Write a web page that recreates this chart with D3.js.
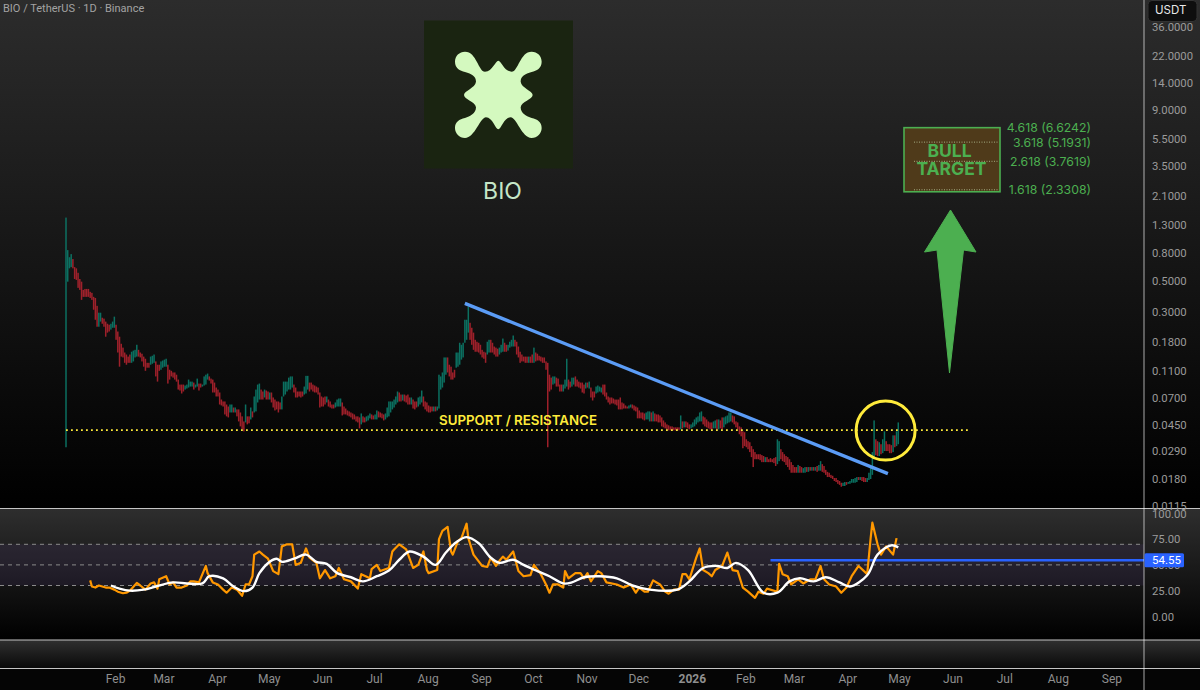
<!DOCTYPE html>
<html>
<head>
<meta charset="utf-8">
<script src="https://cdn.jsdelivr.net/npm/d3@7"></script>
<style>
  html, body { margin: 0; padding: 0; background: #000; }
  svg { display: block; font-family: Inter, "Noto Sans", sans-serif; }
</style>
</head>
<body>
<div id="chart"></div>
<script>
// daily candles, first one is 3 Jan 2025
const firstDay = new Date(Date.UTC(2025, 0, 3));

const highs = [
  1.46,.845,.75,.79,.727,.635,.622,.577,.52,.497,
  .433,.44,.44,.44,.419,.412,.385,.378,.331,.295,
  .295,.271,.267,.254,.245,.241,.245,.254,.276,.241,
  .215,.197,.175,.164,.151,.146,.141,.146,.153,.156,
  .158,.172,.158,.151,.148,.141,.136,.127,.127,.141,
  .143,.146,.13,.123,.123,.13,.132,.134,.136,.123,
  .113,.111,.108,.108,.104,.0958,.0881,.0881,.0881,.0867,
  .0881,.0958,.0926,.0926,.0911,.0881,.0974,.0896,.0896,.0881,
  .101,.104,.106,.101,.0974,.0958,.0911,.0838,.081,.0771,
  .0685,.0663,.0663,.063,.0609,.063,.063,.0599,.0599,.058,
  .058,.0551,.0516,.0474,.063,.0516,.0516,.0599,.0561,.0721,
  .081,.0881,.0896,.081,.0784,.081,.0797,.0784,.0771,.0771,
  .0709,.0685,.0663,.0663,.0652,.0721,.0926,.0926,.0926,.099,
  .101,.101,.0881,.0838,.0784,.0784,.0784,.0784,.0852,.102,
  .102,.0911,.0911,.0881,.0867,.0852,.0838,.0771,.0721,.0709,
  .0721,.0721,.0685,.0663,.063,.063,.0652,.0685,.0697,.0697,
  .0652,.0609,.0589,.057,.0561,.0551,.0542,.0533,.0516,.0516,
  .0507,.0542,.0516,.0507,.0516,.0524,.0542,.0533,.0524,.0533,
  .057,.0561,.0551,.0542,.0533,.0542,.0599,.0663,.0663,.0663,
  .0685,.0721,.0784,.0771,.0745,.0745,.0745,.0733,.0745,.0709,
  .0709,.0685,.0663,.0663,.0709,.0721,.0797,.0721,.0663,.0652,
  .062,.0609,.0609,.0609,.0609,.0609,.104,.101,.108,.139,
  .139,.139,.123,.119,.108,.113,.151,.151,.178,.172,
  .178,.262,.262,.326,.249,.229,.211,.187,.181,.178,
  .172,.158,.153,.151,.181,.187,.187,.178,.167,.164,
  .161,.164,.172,.191,.178,.172,.172,.181,.187,.201,
  .187,.181,.167,.153,.146,.141,.141,.141,.141,.141,
  .146,.164,.151,.148,.143,.141,.139,.139,.13,.127,
  .104,.099,.101,.101,.099,.0974,.0881,.0881,.0881,.0958,
  .136,.0958,.0926,.099,.099,.101,.0958,.0926,.0911,.0911,
  .0881,.0911,.0911,.0926,.0838,.0784,.0784,.0852,.0867,.0852,
  .0838,.0881,.0881,.0771,.0721,.0709,.0709,.0697,.0685,.0685,
  .0685,.0709,.0652,.0641,.062,.0609,.062,.063,.063,.062,
  .0609,.0599,.057,.0551,.0551,.0542,.0551,.0561,.0561,.0551,
  .0561,.0542,.0533,.0533,.0524,.0507,.0482,.0466,.0451,.0444,
  .0436,.0436,.0429,.0429,.0429,.0429,.0524,.0474,.0474,.0474,
  .0466,.0451,.0451,.0466,.049,.0507,.0516,.0551,.0561,.0516,
  .0507,.049,.0474,.0466,.0466,.0474,.0482,.049,.049,.0482,
  .0507,.0507,.0516,.0524,.0551,.0551,.0524,.0516,.0474,.0466,
  .0436,.0429,.0401,.0395,.0351,.034,.0334,.0313,.0297,.0283,
  .0273,.0273,.0273,.0269,.0265,.026,.026,.0251,.0256,.0251,
  .0256,.026,.0351,.034,.0297,.0283,.0273,.0265,.026,.0251,
  .0239,.0228,.022,.022,.0228,.0224,.022,.0216,.022,.022,
  .022,.022,.022,.022,.022,.0224,.0228,.0243,.0231,.0224,
  .021,.0203,.02,.0193,.019,.0183,.0183,.0177,.0174,.0169,
  .0169,.0171,.0171,.0171,.0174,.018,.018,.0183,.0186,.0186,
  .0186,.0186,.0186,.0183,.0183,.02,.022,.0283,.0482,.0351,
  .034,.0334,.0323,.0351,.0401,.034,.0323,.0323,.0318,.0375,
  .0375,.0401,.0466
];

const lows = [
  .0307,.497,.622,.635,.622,.52,.512,.448,.433,.366,
  .385,.385,.385,.385,.378,.366,.31,.262,.233,.233,
  .254,.245,.233,.197,.211,.215,.222,.229,.229,.187,
  .151,.119,.141,.139,.127,.123,.127,.127,.127,.13,
  .139,.141,.141,.139,.13,.119,.111,.117,.117,.123,
  .125,.127,.101,.0926,.111,.113,.117,.119,.119,.0896,
  .0958,.101,.099,.0958,.0926,.081,.0797,.0758,.0784,.081,
  .0824,.0838,.0852,.0852,.081,.0838,.0852,.0797,.0838,.0852,
  .0867,.0881,.0958,.0942,.0896,.0771,.0771,.0721,.0721,.063,
  .062,.0609,.0533,.0516,.0507,.0551,.0551,.0551,.0551,.0516,
  .0474,.0436,.0415,.0401,.0466,.0451,.0459,.049,.0507,.0551,
  .0561,.0652,.0685,.0685,.0685,.0709,.0685,.0685,.0685,.0652,
  .0599,.057,.058,.0551,.058,.058,.0721,.0745,.0784,.081,
  .081,.0838,.0771,.0709,.0709,.0721,.0709,.0721,.0745,.0758,
  .081,.0784,.081,.0784,.0771,.0771,.0745,.0599,.0609,.0609,
  .063,.0652,.0609,.0599,.0589,.0589,.0599,.0609,.0609,.0609,
  .0524,.0533,.0533,.0524,.0516,.0507,.049,.049,.0474,.0466,
  .0422,.0451,.0466,.0466,.0474,.0482,.0499,.049,.049,.049,
  .049,.0507,.0507,.0499,.0482,.049,.0507,.0516,.0551,.058,
  .0599,.063,.0652,.0663,.0663,.0674,.0663,.0652,.063,.063,
  .063,.0589,.058,.0599,.0609,.063,.0652,.0609,.058,.0561,
  .0551,.0551,.0561,.0561,.0561,.057,.0589,.081,.0838,.0911,
  .104,.108,.101,.0958,.0958,.099,.117,.119,.123,.134,
  .139,.178,.187,.211,.187,.172,.158,.153,.153,.151,
  .146,.139,.136,.127,.146,.151,.151,.151,.146,.141,
  .141,.146,.151,.153,.153,.153,.156,.164,.167,.167,
  .167,.146,.139,.127,.13,.13,.127,.127,.127,.127,
  .127,.127,.13,.132,.132,.13,.127,.127,.113,.0307,
  .0784,.081,.0881,.0896,.0852,.0852,.0784,.0784,.0784,.0824,
  .0852,.081,.0838,.0852,.0881,.0852,.0852,.0838,.0824,.0771,
  .0758,.0824,.0838,.0824,.0709,.0674,.0709,.0758,.0771,.0784,
  .0771,.0745,.0721,.0685,.0652,.063,.0641,.0641,.063,.062,
  .058,.058,.058,.0589,.0589,.0589,.0589,.0599,.0589,.057,
  .0561,.0499,.0499,.0499,.049,.0482,.049,.049,.0474,.0474,
  .0474,.0474,.0474,.0466,.0466,.0436,.0429,.0422,.0415,.0408,
  .0408,.0408,.0408,.0408,.0408,.0408,.0415,.0422,.0429,.0429,
  .0422,.0415,.0422,.0429,.0436,.0451,.0466,.0474,.0474,.0451,
  .0436,.0429,.0422,.0415,.0415,.0422,.0422,.0415,.0415,.0422,
  .0415,.0429,.0451,.0459,.0466,.0474,.0466,.0451,.0429,.0415,
  .0382,.0369,.0302,.0313,.0307,.0297,.0283,.026,.022,.0251,
  .0251,.0251,.0247,.0239,.0239,.0239,.0239,.0239,.0239,.0239,
  .0235,.0224,.0231,.0243,.0251,.0243,.0239,.0228,.022,.021,
  .02,.02,.02,.02,.02,.02,.02,.02,.02,.0203,
  .0203,.0207,.0207,.0207,.0207,.0203,.0207,.0207,.0203,.02,
  .0193,.0186,.0186,.0183,.018,.0174,.0171,.0166,.0163,.0158,
  .016,.016,.0163,.0166,.0166,.0169,.0169,.0169,.0171,.0177,
  .0177,.0174,.0171,.0171,.0171,.0177,.018,.0193,.026,.0269,
  .0265,.0265,.0273,.0278,.0288,.0288,.0288,.0278,.0278,.0283,
  .0307,.0313,.0323
];

// u = closed up, d = closed down
const candleDirs = [
  'uuuudddddd','dddddddddu','uddddduuud','dddddddduu','uudddddddu',
  'uuddduuuud','dddddddddu','uuuuduuddu','uuuddddddd','ddddduudud',
  'dddduddudu','uuudduddud','ddddduuuuu','uuddddddUU','uddddddddd',
  'dudddduuuu','dddddddddd','dudduuuddu','udddduuuuu','uuuddudddd',
  'uddduuuddd','ddduduuuuu','uddddduuuu','uuuudddddd','dddduudddd',
  'duuudduuuu','ddddddddud','dudddddddd','dduudddduu','udduuddddd',
  'dududdduuu','uddddddddd','dddddduudd','dddddduuud','uddddddddd',
  'ddddddudud','dduuuuuuud','ddddduudud','duuuuudddd','dddddddddd',
  'dddddudddd','dduudddddd','ddddudduud','udududuudd','dddddddddd',
  'uuduuuuuud','uddduuuuud','duduuddddu','duu'
].join('').toLowerCase();

const rsiDays = [
  14,15,17,19,21,23,25,28,30,33,
  35,37,41,43,46,49,51,53,54,58,
  60,62,64,67,70,72,74,77,79,81,
  82,85,88,91,93,96,99,102,104,106,
  108,109,112,114,117,120,123,125,128,131,
  133,136,139,141,145,147,150,153,156,158,
  161,165,169,171,176,177,180,182,187,189,
  190,193,197,201,204,207,209,210,215,216,
  218,221,223,224,227,229,232,233,236,241,
  244,246,249,251,253,255,259,262,265,269,
  271,275,278,280,282,285,288,289,291,295,
  298,300,302,304,308,310,313,319,323,327,
  330,332,335,337,340,344,347,349,352,355,
  357,359,361,365,367,369,372,374,376,380,
  383,386,389,392,395,399,401,404,406,412,
  413,415,418,420,424,427,431,434,437,439,
  442,446,449,452,455,459,464,466,467,470,
  472,475,479,481
];
const rsiValues = [
  35,29,28,30,29,28,28,26,24,22.5,
  23,25,32.5,30,26,32,33,27,36,39,
  31,33,28,28,30,34,34,33,41,49,
  42,33,31,26,23,28,26,20,31,31,
  39,60,63,60,56,44,41,68,70,70,
  50,52,66,57,52,37,45,37,39,47,
  36,34,27,41,37,46,50,44,47,63,
  65,70,65,47,50,63,45,42,45,75,
  83,87,63,60,73,76,90,76,60,49,
  48,57,49,54,58,55,63,44,39,40,
  50,41,31,23,31,31,28,44,37,42,
  42,37,42,34,44,42,33,31,28,31,
  23,28,24,24,35,31,24,22,26,26,
  41,41,36,57,66,45,42,39,45,49,
  62,45,44,28,24,18,24,22,27,24,
  51,41,39,31,36,32,36,36,49,36,
  31,29,23,28,39,49,41,76,91,70,
  60,68,60,76
];

const maDays = [
  26,31,37,45,52,62,70,79,83,91,
  97,103,108,112,118,122,125,132,139,145,
  151,157,165,172,180,187,193,199,207,214,
  220,226,232,239,246,251,259,265,273,280,
  288,293,300,309,319,328,338,354,361,369,
  377,383,388,395,404,412,419,425,433,440,
  448,454,464,470,478,482
];
const maValues = [
  30,27,25,26,29,33,32,32,39,37,
  29,24.5,28,42,53,56,53,56,60,53,
  51,42,38,34,39,44.5,55,63,58,50,
  62,72,77,71,57,52,55,50,44,39,
  32,33,38,39,37,30,26,26,34,47,
  49,47,52,45,23,23,34,37,34,38,
  33,29,40,60,69,67
];

const priceTicks = [36, 22, 14, 9, 5.5, 3.5, 2.1, 1.3, 0.8, 0.5, 0.3, 0.18, 0.11, 0.07, 0.045, 0.029, 0.018, 0.0115];
const rsiTicks = [100, 75, 50, 25, 0];
const rsiBands = [70, 50, 30];
const monthLabels = ['Feb','Mar','Apr','May','Jun','Jul','Aug','Sep','Oct','Nov','Dec','2026','Feb','Mar','Apr','May','Jun','Jul','Aug','Sep'];
const fibRatios = ['4.618', '3.618', '2.618', '1.618'];
const fibPrices = [6.6242, 5.1931, 3.7619, 2.3308];
const supportPrice = 0.0410;
const trendFrom = { day: 231, price: 0.345 };
const trendTo = { day: 476, price: 0.0197 };
const rsiLevel = 54.55;
const rsiLevelFromDay = 408;

const width = 1200, height = 690;
const axisX = 1144;

const svg = d3.select('#chart').append('svg').attr('width', width).attr('height', height);
const defs = svg.append('defs');

function paneGradient(id, top, bottom) {
  const g = defs.append('linearGradient').attr('id', id).attr('x1', 0).attr('y1', 0).attr('x2', 0).attr('y2', 1);
  g.append('stop').attr('offset', 0).attr('stop-color', top);
  g.append('stop').attr('offset', 1).attr('stop-color', bottom);
}
paneGradient('mainBg', '#2c2c2c', '#000');
paneGradient('rsiBg', '#2e2e2e', '#000');
paneGradient('lowBg', '#303030', '#090909');

svg.append('rect').attr('width', width).attr('height', height).attr('fill', '#050505');
svg.append('rect').attr('width', width).attr('height', 508).attr('fill', 'url(#mainBg)');
svg.append('rect').attr('y', 509).attr('width', width).attr('height', 131).attr('fill', 'url(#rsiBg)');
svg.append('rect').attr('y', 640).attr('width', width).attr('height', 28).attr('fill', 'url(#lowBg)');

const x = d3.scaleUtc().domain([firstDay, d3.utcDay.offset(firstDay, 483)]).range([66, 900]);
const dayX = i => x(d3.utcDay.offset(firstDay, i));
const y = d3.scaleLog().domain([0.018, 36]).range([479, 27]);
const rsiY = d3.scaleLinear().domain([0, 100]).range([616.4, 513.4]);

// logo
const logo = svg.append('g');
logo.append('rect').attr('x', 424).attr('y', 20.5).attr('width', 149).attr('height', 148).attr('fill', '#1a2411');
logo.append('path')
  .attr('transform', 'translate(400,0) scale(0.3333)')
  .attr('fill', '#d4f9bf')
  .attr('d', 'M295,182C304,182 312,214 335,215C355,215 360,155 395,155C412,155 425,168 425,185C425,205 410,212 395,216C375,222 362,228 362,245C364,264 398,272 398,285C398,298 364,305 362,322C362,340 380,350 395,354C412,358 425,365 425,384C425,400 412,414 395,414C365,414 350,352 332,352C312,352 304,388 295,388C286,388 278,352 258,352C240,352 225,414 195,414C178,414 165,400 165,384C165,365 178,358 195,354C210,350 228,340 228,322C226,305 192,298 192,285C192,272 226,264 228,245C228,228 215,222 195,216C180,212 165,205 165,185C165,168 178,155 195,155C230,155 235,215 255,215C278,214 286,182 295,182Z');
svg.append('text').attr('x', 502.5).attr('y', 199).attr('text-anchor', 'middle')
  .attr('font-size', 23).attr('fill', '#c5e6c8').text('BIO');

svg.append('text').attr('x', 3).attr('y', 12).attr('font-size', 11).attr('font-family', 'Roboto').attr('fill', '#a3a3a3')
  .text('BIO / TetherUS · 1D · Binance');

// candles
svg.append('g').selectAll('rect').data(highs).join('rect')
  .attr('x', (d, i) => dayX(i) - 0.75)
  .attr('width', 1.5)
  .attr('y', d => y(d))
  .attr('height', (d, i) => y(lows[i]) - y(d))
  .attr('fill', (d, i) => candleDirs[i] === 'u' ? '#0b7d6c' : '#b3232f')
  .attr('fill-opacity', 0.88);

// support line
svg.append('line')
  .attr('x1', 66).attr('x2', 970).attr('y1', y(supportPrice)).attr('y2', y(supportPrice))
  .attr('stroke', '#ffeb3b').attr('stroke-width', 1.8).attr('stroke-dasharray', '1.8 3.2');
svg.append('text').attr('x', 518).attr('y', 425).attr('text-anchor', 'middle')
  .attr('font-size', 13.3).attr('font-weight', 600).attr('fill', '#ffeb3b').text('SUPPORT / RESISTANCE');

// falling trend line
svg.append('line')
  .attr('x1', dayX(trendFrom.day)).attr('y1', y(trendFrom.price))
  .attr('x2', dayX(trendTo.day)).attr('y2', y(trendTo.price))
  .attr('stroke', '#5b9cf6').attr('stroke-width', 3.4);

svg.append('ellipse').attr('cx', 885.6).attr('cy', 430.6).attr('rx', 29.5).attr('ry', 29.5)
  .attr('fill', 'none').attr('stroke', '#ffeb3b').attr('stroke-width', 3);

// bull target box
const boxTop = y(fibPrices[0]);
svg.append('rect').attr('x', 904).attr('y', boxTop).attr('width', 96).attr('height', y(fibPrices[3]) - boxTop + 2)
  .attr('fill', '#4f3a1a').attr('stroke', '#4caf50').attr('stroke-width', 1.6);
svg.append('g').selectAll('line').data(fibPrices.slice(1)).join('line')
  .attr('x1', 914).attr('x2', 999).attr('y1', d => y(d)).attr('y2', d => y(d))
  .attr('stroke', '#b9c79a').attr('stroke-width', 0.8).attr('stroke-dasharray', '1 1.5');
svg.append('text').attr('x', 949.5).attr('y', 157).attr('text-anchor', 'middle')
  .attr('font-size', 17.5).attr('font-weight', 700).attr('fill', '#4caf50').text('BULL');
svg.append('text').attr('x', 951.5).attr('y', 175).attr('text-anchor', 'middle')
  .attr('font-size', 17.5).attr('font-weight', 700).attr('fill', '#4caf50').text('TARGET');
svg.append('g').selectAll('text').data(fibPrices).join('text')
  .attr('x', 1091).attr('y', d => y(d) + 4.5).attr('text-anchor', 'end')
  .attr('font-size', 12.3).attr('fill', '#4caf50')
  .text((d, i) => `${fibRatios[i]} (${d.toFixed(4)})`);

svg.append('path').attr('fill', '#4caf50').attr('stroke', '#4caf50').attr('stroke-width', 1).attr('stroke-linejoin', 'round')
  .attr('d', 'M950.5,210L976,252L963.5,250L949.5,373L937,250L924.5,252Z');

// rsi pane
svg.append('rect').attr('x', 0).attr('width', axisX)
  .attr('y', rsiY(rsiBands[0])).attr('height', rsiY(rsiBands[2]) - rsiY(rsiBands[0]))
  .attr('fill', '#7e57c2').attr('fill-opacity', 0.1);
svg.append('g').selectAll('line').data(rsiBands).join('line')
  .attr('x1', 0).attr('x2', axisX).attr('y1', d => rsiY(d)).attr('y2', d => rsiY(d))
  .attr('stroke', '#8a8a8a').attr('stroke-width', 1).attr('stroke-dasharray', '4 4');

svg.append('line').attr('x1', dayX(rsiLevelFromDay)).attr('x2', axisX)
  .attr('y1', rsiY(rsiLevel)).attr('y2', rsiY(rsiLevel))
  .attr('stroke', '#2962ff').attr('stroke-width', 2.4);

const rsiLine = d3.line().x(d => dayX(d[0])).y(d => rsiY(d[1]));
svg.append('path').datum(d3.zip(rsiDays, rsiValues))
  .attr('d', rsiLine).attr('fill', 'none')
  .attr('stroke', '#ff9800').attr('stroke-width', 2.2).attr('stroke-linejoin', 'round');
svg.append('path').datum(d3.zip(maDays, maValues))
  .attr('d', rsiLine.curve(d3.curveCatmullRom)).attr('fill', 'none')
  .attr('stroke', '#fff').attr('stroke-width', 2.4);

// pane separators
svg.append('g').selectAll('line').data([508.5, 640, 668.5]).join('line')
  .attr('x1', 0).attr('x2', width).attr('y1', d => d).attr('y2', d => d)
  .attr('stroke', '#c4c4c4').attr('stroke-width', 1.2);
svg.append('line').attr('x1', axisX).attr('x2', axisX).attr('y1', 0).attr('y2', height)
  .attr('stroke', '#fff').attr('stroke-opacity', 0.55).attr('stroke-width', 1.2);

// axes
function styleAxis(g, color, size) {
  g.select('.domain').remove();
  g.selectAll('.tick line').remove();
  g.selectAll('text').attr('fill', color).attr('font-family', 'Roboto').attr('font-size', size);
}
svg.append('g').attr('transform', `translate(${axisX},0)`)
  .call(d3.axisRight(y).tickValues(priceTicks).tickFormat(d3.format('.4f')).tickPadding(8).tickSize(0))
  .call(styleAxis, '#9b9b9b', 11.3);
svg.append('g').attr('transform', `translate(${axisX},0)`)
  .call(d3.axisRight(rsiY).tickValues(rsiTicks).tickFormat(d3.format('.2f')).tickPadding(8).tickSize(0))
  .call(styleAxis, '#9b9b9b', 11.3);

const monthTicks = d3.utcMonth.range(new Date(Date.UTC(2025, 1, 1)), new Date(Date.UTC(2026, 9, 1)));
svg.append('g').attr('transform', 'translate(-1,674)')
  .call(d3.axisBottom(x).tickValues(monthTicks).tickFormat((d, i) => monthLabels[i]).tickPadding(0).tickSize(0))
  .call(styleAxis, '#8f8f8f', 12)
  .selectAll('text').attr('font-weight', (d, i) => monthLabels[i] === '2026' ? 700 : 400);

// tags on the price scale
svg.append('rect').attr('x', 1148).attr('y', 0.5).attr('width', 49).attr('height', 21).attr('rx', 4)
  .attr('fill', '#0e0e0e').attr('stroke', '#333');
svg.append('text').attr('x', 1155).attr('y', 14).attr('font-size', 11.5).attr('fill', '#e8e8e8').text('USDT');

svg.append('rect').attr('x', axisX + 0.5).attr('y', rsiY(rsiLevel) - 7).attr('width', 39.5).attr('height', 14).attr('rx', 1.5)
  .attr('fill', '#2962ff');
svg.append('text').attr('x', 1152).attr('y', rsiY(rsiLevel) + 4.2).attr('font-size', 11.5).attr('font-family', 'Roboto').attr('fill', '#fff')
  .text(rsiLevel.toFixed(2));
</script>
</body>
</html>
